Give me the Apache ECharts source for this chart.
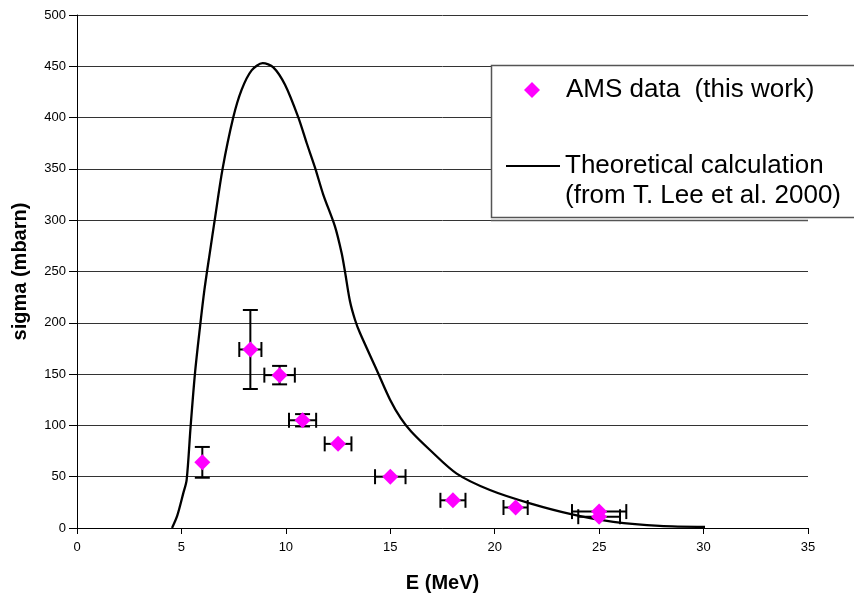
<!DOCTYPE html>
<html>
<head>
<meta charset="utf-8">
<script src="https://cdn.jsdelivr.net/npm/echarts@6/dist/echarts.min.js"></script>
<style>html,body{margin:0;padding:0;background:#fff}#c{width:854px;height:601px}</style>
</head>
<body>
<div id="c"></div>
<script>
// Theoretical calculation curve (E in MeV, sigma in mbarn)
var curveE = [4.55,4.8,5.09,5.25,5.44,5.65,5.89,6.1,6.35,6.6,6.97,7.48,7.88,8.36,8.89,9.4,9.96,10.6,11.0,11.4,11.79,12.35,12.67,12.83,13.07,13.31,13.55,14.35,14.99,15.5,16.0,16.9,18.18,19.77,21.69,23.76,25.68,27.9,30.07];
var curveSigma = [0,12,34,47,99,151,196,232,267,301,350,400,427,446,453,449,432,400,375,351,325,294,268,250,221,203,190,154,125,107,94,76,53,37,24,13,6,2,1];
// AMS data points
var amsE = [6,8.3,9.7,10.8,12.5,15,18,21,25,25];
var amsSigma = [64,174,149,105,82,50,27,20,16,11];
var amsSigmaErr = [15,38.5,9,6,0,0,0,0,0,0];
var amsEErr = [0,0.53,0.73,0.65,0.64,0.73,0.6,0.58,1.3,1.0];
var yTicks = [0,50,100,150,200,250,300,350,400,450,500];
var xTicks = [0,5,10,15,20,25,30,35];

var FONT = "'Liberation Sans', Arial, sans-serif";
var nameAMS = 'AMS data  (this work)';
var nameTheo = 'Theoretical calculation\n(from T. Lee et al. 2000)';

var chart = echarts.init(document.getElementById('c'));
var curveData = curveE.map(function(e,i){return [e, curveSigma[i]];});
var amsData = amsE.map(function(e,i){return [e, amsSigma[i]];});
var errData = amsE.map(function(e,i){return [e, amsSigma[i], amsSigmaErr[i], amsEErr[i]];});

chart.setOption({
  animation:false,
  backgroundColor:'#fff',
  textStyle:{fontFamily:FONT},
  grid:{left:77,right:46,top:15,bottom:73},
  xAxis:{type:'value',min:xTicks[0],max:xTicks[xTicks.length-1],interval:5,
    name:'E (MeV)',nameLocation:'middle',nameGap:45,
    nameTextStyle:{fontFamily:FONT,fontWeight:'bold',fontSize:20,color:'#000'},
    axisLine:{lineStyle:{color:'#000',width:1}},
    axisTick:{show:true,length:6,lineStyle:{color:'#000'}},
    axisLabel:{color:'#000',fontSize:13,margin:13,fontFamily:FONT},
    splitLine:{show:false}},
  yAxis:{type:'value',min:yTicks[0],max:yTicks[yTicks.length-1],interval:50,
    name:'sigma (mbarn)',nameLocation:'middle',nameGap:47,
    nameTextStyle:{fontFamily:FONT,fontWeight:'bold',fontSize:20,color:'#000'},
    axisLine:{show:true,lineStyle:{color:'#000',width:1}},
    axisTick:{show:true,length:8,lineStyle:{color:'#000'}},
    axisLabel:{color:'#000',fontSize:13,margin:11,fontFamily:FONT},
    splitLine:{show:true,lineStyle:{color:'#333',width:1}}},
  graphic:[
    {type:'line',z:50,shape:{x1:491,y1:220.5,x2:808,y2:220.5},style:{stroke:'#555',lineWidth:1.5}},
    {type:'rect',z:51,shape:{x:491.5,y:65.5,width:420,height:152},style:{fill:'#fff',stroke:'#555',lineWidth:1.5}}
  ],
  legend:[
    {z:60,left:524,top:75,padding:0,itemWidth:16,itemHeight:16,selectedMode:false,
     data:[{name:nameAMS,icon:'diamond'}],
     formatter:function(n){return '{p| }{t|'+n+'}';},
     textStyle:{fontFamily:FONT,fontSize:26,lineHeight:30,color:'#000',
       rich:{p:{width:21,fontSize:26,lineHeight:30},t:{fontFamily:FONT,fontSize:26,lineHeight:30,color:'#000'}}}},
    {z:60,left:506,top:121,padding:0,itemWidth:54,itemHeight:2,selectedMode:false,
     data:[{name:nameTheo,icon:'rect',itemStyle:{color:'#000'}}],
     formatter:function(n){return ' \n'+n;},
     textStyle:{fontFamily:FONT,fontSize:26,lineHeight:30,color:'#000'}}
  ],
  series:[
    {name:nameTheo,type:'line',data:curveData,smooth:0.3,symbol:'none',showSymbol:false,
     lineStyle:{color:'#000',width:2.3},itemStyle:{color:'#000'},z:2},
    {name:'errors',type:'custom',data:errData,z:3,
     renderItem:function(params,api){
       var x=api.value(0), y=api.value(1), ye=api.value(2), xe=api.value(3);
       var children=[]; var cap=7.5; var st={stroke:'#000',lineWidth:2};
       if(ye>0){
         var t=api.coord([x,y+ye]), b=api.coord([x,y-ye]);
         children.push({type:'line',shape:{x1:t[0],y1:t[1],x2:b[0],y2:b[1]},style:st});
         children.push({type:'line',shape:{x1:t[0]-cap,y1:t[1],x2:t[0]+cap,y2:t[1]},style:st});
         children.push({type:'line',shape:{x1:b[0]-cap,y1:b[1],x2:b[0]+cap,y2:b[1]},style:st});
       }
       if(xe>0){
         var l=api.coord([x-xe,y]), r=api.coord([x+xe,y]);
         children.push({type:'line',shape:{x1:l[0],y1:l[1],x2:r[0],y2:r[1]},style:st});
         children.push({type:'line',shape:{x1:l[0],y1:l[1]-cap,x2:l[0],y2:l[1]+cap},style:st});
         children.push({type:'line',shape:{x1:r[0],y1:r[1]-cap,x2:r[0],y2:r[1]+cap},style:st});
       }
       return {type:'group',children:children};
     }},
    {name:nameAMS,type:'scatter',data:amsData,symbol:'diamond',symbolSize:16,
     itemStyle:{color:'#ff00ff',opacity:1},z:4}
  ]
});
</script>
</body>
</html>
